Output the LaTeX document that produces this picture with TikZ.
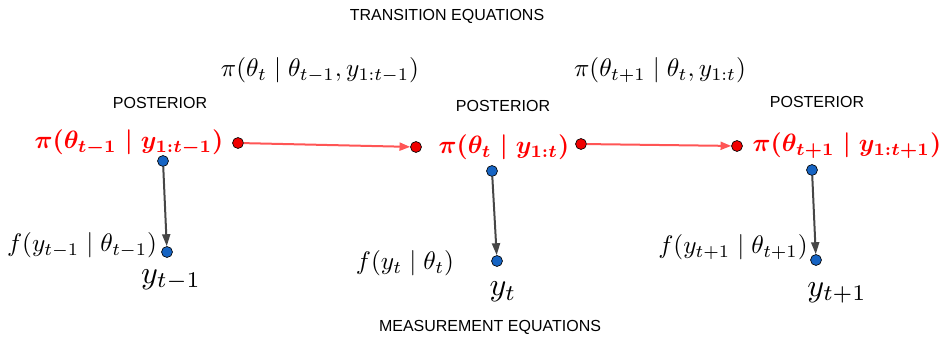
\documentclass[tikz,border=0pt]{standalone}
\usepackage{amsmath}
\usepackage{fontspec}
\newfontfamily\labelfont{Liberation Sans}
\usetikzlibrary{arrows.meta}
\definecolor{dotred}{RGB}{240,0,0}
\definecolor{linered}{RGB}{255,85,85}
\definecolor{dotblue}{RGB}{22,100,195}
\definecolor{arrgray}{RGB}{70,70,70}
\tikzset{
  caption/.style={font=\labelfont\fontsize{12}{14}\selectfont, inner sep=0pt},
  post/.style={font=\labelfont\fontsize{12}{14}\selectfont, inner sep=0pt},
  redmath/.style={text=red, font=\boldmath, inner sep=0pt, scale=1.88, transform shape},
  blackmath/.style={inner sep=0pt, scale=1.9, transform shape},
  ylab/.style={inner sep=0pt, scale=2.4, transform shape},
  rdot/.style={circle, draw=black, line width=0.5pt, fill=dotred, minimum size=8.2pt, inner sep=0pt},
  bdot/.style={circle, draw=black, line width=0.5pt, fill=dotblue, minimum size=8.2pt, inner sep=0pt},
  redarrow/.style={draw=linered, line width=1.5pt, -{Triangle[length=8pt,width=6pt]}},
  grayarrow/.style={draw=arrgray, line width=1.5pt, -{Triangle[length=9pt,width=6pt]}},
}
\begin{document}
\begin{tikzpicture}[x=0.75pt,y=-0.75pt]
\useasboundingbox (0,0) rectangle (943,341);
% captions
\node[caption] (trans) at (447,16) {TRANSITION EQUATIONS};
\node[caption] (meas) at (490,327) {MEASUREMENT EQUATIONS};
% transition equations
\node[blackmath] (te1) at (320,70) {$\pi(\theta_t \mid \theta_{t-1}, y_{1:t-1})$};
\node[blackmath] (te2) at (660,70) {$\pi(\theta_{t+1} \mid \theta_t, y_{1:t})$};
% posterior labels
\node[post] (p1) at (160,103) {POSTERIOR};
\node[post] (p2) at (503,106) {POSTERIOR};
\node[post] (p3) at (817,102) {POSTERIOR};
% red posterior expressions
\node[redmath] (pi1) at (129,143) {$\pi(\theta_{t-1} \mid y_{1:t-1})$};
\node[redmath] (pi2) at (504,147) {$\pi(\theta_{t} \mid y_{1:t})$};
\node[redmath] (pi3) at (847,146) {$\pi(\theta_{t+1} \mid y_{1:t+1})$};
% red dots
\node[rdot] (r1) at (238,143) {};
\node[rdot] (r2) at (416,147) {};
\node[rdot] (r3) at (581,144) {};
\node[rdot] (r4) at (737,146) {};
\draw[redarrow] (r1) -- (r2);
\draw[redarrow] (r3) -- (r4);
% blue dots
\node[bdot] (b1) at (163,161) {};
\node[bdot] (b2) at (167,252) {};
\node[bdot] (b3) at (492,171) {};
\node[bdot] (b4) at (497,261) {};
\node[bdot] (b5) at (812,170) {};
\node[bdot] (b6) at (816,260) {};
\draw[grayarrow] (b1) -- (b2);
\draw[grayarrow] (b3) -- (b4);
\draw[grayarrow] (b5) -- (b6);
% measurement equations
\node[blackmath] (f1) at (82,245) {$f(y_{t-1} \mid \theta_{t-1})$};
\node[blackmath] (f2) at (405,263) {$f(y_{t} \mid \theta_{t})$};
\node[blackmath] (f3) at (733,247) {$f(y_{t+1} \mid \theta_{t+1})$};
% observations
\node[ylab] (y1) at (171,280) {$y_{t-1}$};
\node[ylab] (y2) at (503,292) {$y_{t}$};
\node[ylab] (y3) at (837,293) {$y_{t+1}$};
\end{tikzpicture}
\end{document}
